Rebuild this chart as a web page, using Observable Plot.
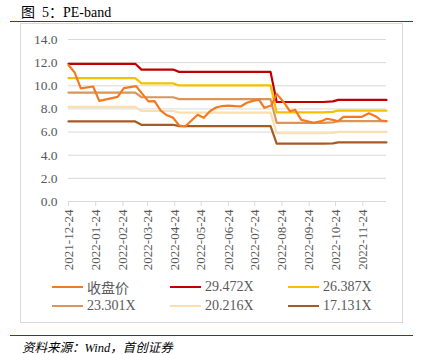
<!DOCTYPE html>
<html>
<head>
<meta charset="utf-8">
<script src="https://cdn.jsdelivr.net/npm/d3@7"></script>
<script src="https://cdn.jsdelivr.net/npm/@observablehq/plot@0.6"></script>
<style>
  html, body { margin: 0; padding: 0; background: #fff; }
  #wrap { position: relative; width: 427px; height: 354px; overflow: hidden; font-family: "Liberation Serif", "Noto Sans CJK SC", serif; }
  #title { position: absolute; left: 21px; top: 1px; font-size: 14px; font-weight: normal; color: #000; white-space: pre; }
  .redline { position: absolute; left: 10px; width: 403px; height: 0; border-top: 1.5px solid #D00000; }
  #box { position: absolute; left: 20px; top: 23px; width: 383px; height: 300px; border: 1px solid #D9D9D9; box-sizing: border-box; }
  #chart { position: absolute; left: 0; top: 0; }
  #chart svg, #chart svg text { font-family: "Liberation Serif", "Noto Sans CJK SC", serif !important; }
  #legend { position: absolute; left: 0; top: 278px; width: 427px; height: 40px; }
  .item { position: absolute; display: flex; align-items: center; font-size: 14px; color: #595959; white-space: nowrap; height: 18px; }
  .sw { width: 31px; height: 0; border-top: 2.5px solid; margin-right: 4px; }
  #source { position: absolute; left: 22px; top: 337px; font-size: 12.5px; font-style: italic; color: #000; white-space: nowrap; }
</style>
</head>
<body>
<div id="wrap">
  <div id="title">图  5：PE-band</div>
  <div class="redline" style="top:21px"></div>
  <div id="box"></div>
  <div id="chart"></div>
  <div id="legend"></div>
  <div class="redline" style="top:335px"></div>
  <div id="source">资料来源：Wind，首创证券</div>
</div>
<script>
// ---- data ----
const seriesNames = ["收盘价", "29.472X", "26.387X", "23.301X", "20.216X", "17.131X"];
const seriesColors = ["#F47A20", "#C00000", "#F5C000", "#D9955A", "#FBDFB0", "#A85A24"];

const priceDates = ["2021-12-24","2021-12-31","2022-01-07","2022-01-21","2022-01-28","2022-02-18","2022-02-25",
  "2022-03-11","2022-03-18","2022-03-25","2022-04-01","2022-04-08","2022-04-15","2022-04-22","2022-04-29",
  "2022-05-06","2022-05-13","2022-05-20","2022-05-27","2022-06-03","2022-06-10","2022-06-17","2022-06-24",
  "2022-07-01","2022-07-08","2022-07-15","2022-07-22","2022-07-29","2022-08-04","2022-08-12","2022-08-18",
  "2022-08-26","2022-09-02","2022-09-08","2022-09-15","2022-09-21","2022-09-29","2022-10-08","2022-10-14",
  "2022-10-21","2022-10-27","2022-11-02","2022-11-23","2022-12-01","2022-12-09","2022-12-15","2022-12-21"];
const priceValues = [11.8,11.15,9.77,9.94,8.7,9.04,9.8,
  9.97,9.3,8.65,8.67,7.86,7.45,7.25,6.57,
  6.5,7.0,7.5,7.23,7.8,8.12,8.25,8.28,
  8.25,8.21,8.53,8.7,8.79,8.1,8.3,9.3,
  8.58,7.8,7.92,7.05,6.94,6.8,6.94,7.15,
  7.06,6.94,7.32,7.32,7.63,7.35,7.0,6.94];

const bandDates = ["2021-12-24","2022-03-10","2022-03-17","2022-04-22","2022-04-29","2022-08-11","2022-08-18","2022-10-10","2022-10-21","2022-10-27","2022-12-21"];
const band29 = [11.9,11.9,11.4,11.4,11.2,11.2,8.6,8.6,8.65,8.78,8.78];
const band26 = [10.66,10.66,10.21,10.21,10.03,10.03,7.70,7.70,7.74,7.86,7.86];
const band23 = [9.41,9.41,9.01,9.01,8.85,8.85,6.80,6.80,6.84,6.94,6.94];
const band20 = [8.17,8.17,7.82,7.82,7.68,7.68,5.90,5.90,5.93,6.02,6.02];
const band17 = [6.92,6.92,6.63,6.63,6.51,6.51,5.00,5.00,5.03,5.11,5.11];

const xTicks = ["2021-12-24","2022-01-24","2022-02-24","2022-03-24","2022-04-24","2022-05-24",
  "2022-06-24","2022-07-24","2022-08-24","2022-09-24","2022-10-24","2022-11-24"];
const yTicks = [0, 2, 4, 6, 8, 10, 12, 14];

// ---- build tables ----
const parse = d3.utcParse("%Y-%m-%d");
const rows = [];
priceDates.forEach((d, i) => rows.push({series: seriesNames[0], date: parse(d), value: priceValues[i]}));
[band29, band26, band23, band20, band17].forEach((arr, k) => {
  bandDates.forEach((d, i) => rows.push({series: seriesNames[k + 1], date: parse(d), value: arr[i]}));
});
const drawOrder = [5, 4, 3, 2, 1, 0].map(i => seriesNames[i]);
const ff = "'Liberation Serif', serif";

const chart = Plot.plot({
  width: 427,
  height: 282,
  marginLeft: 68,
  marginRight: 41,
  marginTop: 39,
  marginBottom: 81,
  style: {fontFamily: ff, background: "transparent", color: "#595959"},
  x: {type: "utc", domain: [parse("2021-12-24"), parse("2022-12-21")], label: null},
  y: {domain: [0, 14], label: null},
  color: {domain: seriesNames, range: seriesColors},
  marks: [
    Plot.gridY(yTicks, {stroke: "#D9D9D9", strokeOpacity: 1, strokeWidth: 1}),
    Plot.ruleY([0], {stroke: "#D9D9D9", strokeWidth: 1}),
    Plot.axisY(yTicks, {label: null, tickSize: 0, tickPadding: 11, fontSize: 13.5, fontFamily: ff, fill: "#595959", tickFormat: d => d.toFixed(1)}),
    Plot.axisX(xTicks.map(parse), {label: null, tickSize: 5, tickPadding: 3, stroke: "#D9D9D9", tickRotate: -90, fontSize: 13, fontFamily: ff, fill: "#595959", tickFormat: d3.utcFormat("%Y-%m-%d")}),
    ...drawOrder.map(name => Plot.line(rows.filter(r => r.series === name), {
      x: "date", y: "value", stroke: "series", strokeWidth: 2.2, curve: "linear"
    }))
  ]
});
document.getElementById("chart").appendChild(chart);

// ---- legend ----
const legend = document.getElementById("legend");
const cols = [52, 170, 288];
const rowsY = [0, 19];
seriesNames.forEach((name, i) => {
  const it = document.createElement("div");
  it.className = "item";
  it.style.left = cols[i % 3] + "px";
  it.style.top = rowsY[Math.floor(i / 3)] + "px";
  const sw = document.createElement("span");
  sw.className = "sw";
  sw.style.borderTopColor = seriesColors[i];
  const tx = document.createElement("span");
  tx.textContent = name;
  it.appendChild(sw); it.appendChild(tx);
  legend.appendChild(it);
});
</script>
</body>
</html>
